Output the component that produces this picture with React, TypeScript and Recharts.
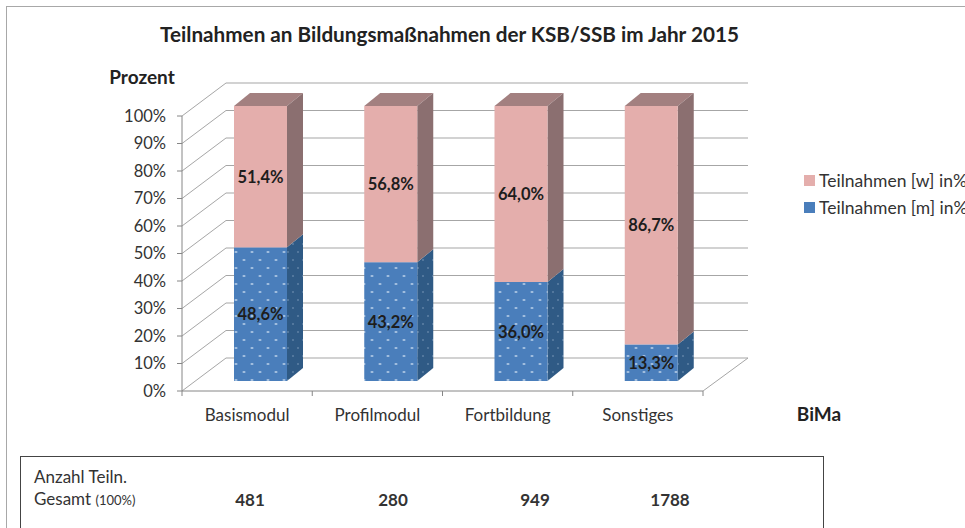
import React from 'react';
import { BarChart, Bar, XAxis, YAxis, CartesianGrid, Legend, LabelList } from 'recharts';

const categories = ['Basismodul', 'Profilmodul', 'Fortbildung', 'Sonstiges'];
const maleValues = [48.6, 43.2, 36.0, 13.3];
const femaleValues = [51.4, 56.8, 64.0, 86.7];
const totals = [481, 280, 949, 1788];
const yTicks = [0, 10, 20, 30, 40, 50, 60, 70, 80, 90, 100];

const data = categories.map((name, i) => ({ name, m: maleValues[i], w: femaleValues[i] }));

const FONT = 'Lato, "Open Sans", sans-serif';
const GRID = '#a6a6a6';
const WALL_DX = 44;
const WALL_DY = 33;
// bars stand a bit behind the front edge of the floor
const BAR_DX = 13;
const BAR_DY = -10;
const SIDE_DX = 16;
const SIDE_DY = 13;
const BAND = 130.25;

const Segment = (props: any) => {
  const { x, y, width, height, front, side, top } = props;
  const l = x + BAR_DX;
  const r = l + width;
  const t = y + BAR_DY;
  const b = t + height;
  return (
    <g>
      {top && (
        <polygon
          points={`${l},${t} ${r},${t} ${r + SIDE_DX},${t - SIDE_DY} ${l + SIDE_DX},${t - SIDE_DY}`}
          fill={top}
        />
      )}
      <polygon
        points={`${r},${t} ${r + SIDE_DX},${t - SIDE_DY} ${r + SIDE_DX},${b - SIDE_DY} ${r},${b}`}
        fill={side}
      />
      <rect x={l} y={t} width={width} height={height} fill={front} />
    </g>
  );
};

const BarValue = (props: any) => {
  const { x, y, width, height, value } = props;
  return (
    <text
      x={x + BAR_DX + width / 2}
      y={y + BAR_DY + height / 2 + 6}
      textAnchor="middle"
      fontFamily={FONT}
      fontWeight={700}
      fontSize={16.5}
      fill="#1d1d1d"
    >
      {String(value.toFixed(1)).replace('.', ',')}%
    </text>
  );
};

const GridLine = (props: any) => {
  const { x1, x2, y1, index } = props;
  return (
    <g key={`g-${index}`}>
      <line x1={x1} y1={y1} x2={x1 + WALL_DX} y2={y1 - WALL_DY} stroke={GRID} strokeWidth={1} />
      <line x1={x1 + WALL_DX} y1={y1 - WALL_DY} x2={x2 + WALL_DX + 1} y2={y1 - WALL_DY} stroke={GRID} strokeWidth={1.2} />
      {y1 > 380 && <line x1={x2} y1={y1} x2={x2 + WALL_DX + 1} y2={y1 - WALL_DY} stroke={GRID} strokeWidth={1} />}
    </g>
  );
};

const CategoryTick = (props: any) => {
  const { x, y, payload, index } = props;
  return (
    <g>
      <line x1={x - BAND / 2} y1={y - 8} x2={x - BAND / 2} y2={y - 3} stroke="#868686" />
      {index === categories.length - 1 && (
        <line x1={x + BAND / 2} y1={y - 8} x2={x + BAND / 2} y2={y - 3} stroke="#868686" />
      )}
      <text x={x} y={y + 22} textAnchor="middle" fontFamily={FONT} fontSize={17} fill="#333">
        {payload.value}
      </text>
    </g>
  );
};

const LegendBox = (props: any) => {
  const items = [...(props.payload || [])].reverse();
  return (
    <div style={{ fontFamily: FONT, fontSize: 17.5, color: '#333', whiteSpace: 'nowrap' }}>
      {items.map((item: any) => (
        <div key={item.value} style={{ height: 27, display: 'flex', alignItems: 'center' }}>
          <span style={{ width: 11, height: 11, marginRight: 4, background: item.dataKey === 'm' ? '#4a7ebb' : '#e4aeac' }} />
          {item.value}
        </div>
      ))}
    </div>
  );
};

const tableCell: React.CSSProperties = { position: 'absolute', top: 32, fontWeight: 700, transform: 'translateX(-50%)' };
const totalCenters = [229, 372, 514, 649];

export default function App() {
  return (
    <div style={{ position: 'absolute', left: 0, top: 0, width: 965, height: 528, overflow: 'hidden', background: '#fff', fontFamily: FONT }}>
      <div style={{ position: 'absolute', left: 6, top: 6, width: 980, height: 540, borderTop: '1px solid #a8a8a8', borderLeft: '1px solid #a8a8a8' }} />
      <div style={{ position: 'absolute', left: 0, top: 0 }}>
        <BarChart
          width={965}
          height={440}
          data={data}
          margin={{ top: 116, right: 262, left: 0, bottom: 9 }}
          barCategoryGap="30%"
          style={{ overflow: 'visible' }}
        >
          <CartesianGrid vertical={false} horizontal={GridLine as any} />
          <XAxis
            dataKey="name"
            axisLine={{ stroke: '#868686' }}
            tickLine={false}
            tick={CategoryTick as any}
            height={40}
            interval={0}
          />
          <YAxis
            domain={[0, 100]}
            ticks={yTicks}
            width={182}
            axisLine={{ stroke: '#868686' }}
            tickLine={{ stroke: '#868686' }}
            tickSize={5}
            tickFormatter={(v) => `${v}%`}
            tick={{ fontFamily: FONT, fontSize: 16.5, fill: '#333' }}
            tickMargin={11}
          />
          <Legend
            layout="horizontal"
            verticalAlign="middle"
            align="center"
            content={LegendBox as any}
            wrapperStyle={{ position: 'absolute', left: 804, top: 167, width: 170 }}
          />
          <Bar
            dataKey="m"
            name="Teilnahmen [m] in%"
            stackId="a"
            barSize={53}
            isAnimationActive={false}
            shape={(p: any) => <Segment {...p} front="url(#dotsFront)" side="url(#dotsSide)" />}
          >
            <LabelList dataKey="m" content={BarValue as any} />
          </Bar>
          <Bar
            dataKey="w"
            name="Teilnahmen [w] in%"
            stackId="a"
            barSize={53}
            isAnimationActive={false}
            shape={(p: any) => <Segment {...p} front="#e4aeac" side="#8b6f70" top="#a38080" />}
          >
            <LabelList dataKey="w" content={BarValue as any} />
          </Bar>
          <defs>
            <pattern id="dotsFront" width="16" height="16" patternUnits="userSpaceOnUse">
              <rect width="16" height="16" fill="#4a7ebb" />
              <ellipse cx="4" cy="4" rx="1.6" ry="0.9" fill="#a9c4e2" />
              <ellipse cx="12" cy="12" rx="1.6" ry="0.9" fill="#a9c4e2" />
            </pattern>
            <pattern id="dotsSide" width="10" height="16" patternUnits="userSpaceOnUse">
              <rect width="10" height="16" fill="#2f5a85" />
              <circle cx="3" cy="4" r="0.8" fill="#7f9dbd" />
              <circle cx="8" cy="12" r="0.8" fill="#7f9dbd" />
            </pattern>
          </defs>
          <text x={449.5} y={42} textAnchor="middle" fontFamily={FONT} fontWeight={700} fontSize={20.7} fill="#222">
            Teilnahmen an Bildungsmaßnahmen der KSB/SSB im Jahr 2015
          </text>
          <text x={142} y={84} textAnchor="middle" fontFamily={FONT} fontWeight={700} fontSize={19} fill="#222">
            Prozent
          </text>
          <text x={819} y={421} textAnchor="middle" fontFamily={FONT} fontWeight={700} fontSize={19} fill="#222">
            BiMa
          </text>
        </BarChart>
      </div>
      <div style={{ position: 'absolute', left: 20, top: 456, width: 802, height: 90, border: '1px solid #444', fontSize: 17, color: '#333', lineHeight: '22px' }}>
        <div style={{ position: 'absolute', left: 13, top: 9, whiteSpace: 'nowrap' }}>
          Anzahl Teiln.
          <br />
          Gesamt <span style={{ fontSize: 13 }}>(100%)</span>
        </div>
        {totals.map((t, i) => (
          <div key={t} style={{ ...tableCell, left: totalCenters[i] }}>{t}</div>
        ))}
      </div>
    </div>
  );
}
